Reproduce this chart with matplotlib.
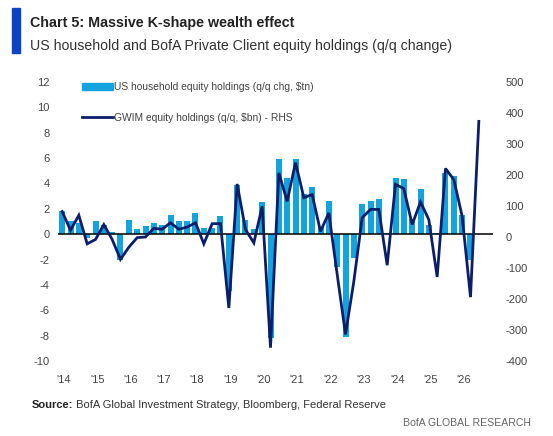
import matplotlib
matplotlib.use("Agg")
import matplotlib.pyplot as plt
from matplotlib.patches import Rectangle
from matplotlib.lines import Line2D
import numpy as np
import pandas as pd

plt.rcParams['font.family'] = ['Liberation Sans Narrow', 'Liberation Sans', 'DejaVu Sans']

# ---- data ----
quarters = [str(p) for p in pd.period_range('2013Q4', periods=51, freq='Q')]

household_tn = [1.8, 1.0, 0.9, -0.3, 1.0, 0.7, 0.2, -2.0, 1.1, 0.4,
                0.65, 0.9, 0.7, 1.55, 1.0, 1.05, 1.7, 0.5, 0.5, 1.45,
                -4.5, 3.9, 1.1, 0.4, 2.5, -8.2, 5.95, 4.4, 5.9, 3.2,
                3.7, 0.6, 2.6, -2.6, -8.1, -1.9, 2.4, 2.6, 2.8, 0.1,
                4.45, 4.35, 1.2, 3.6, 0.75, 0.1, 4.85, 4.6, 1.55, -2.0,
                np.nan]

gwim_bn = [82, 22, 70, -22, -8, 40, -8, -72, -33, -2,
           0, 28, 25, 46, 25, 32, 46, -22, 43, 43,
           -229, 171, 24, -19, 99, -357, 207, 115, 240, 127,
           137, 18, 78, -120, -314, -143, 62, 89, 89, -91,
           170, 156, 40, 113, 56, -129, 221, 185, 67, -194,
           373]

year_labels = ["'14", "'15", "'16", "'17", "'18", "'19", "'20",
               "'21", "'22", "'23", "'24", "'25", "'26"]
left_ticks = [12, 10, 8, 6, 4, 2, 0, -2, -4, -6, -8, -10]
right_ticks = [500, 400, 300, 200, 100, 0, -100, -200, -300, -400]

bar_label = "US household equity holdings (q/q chg, $tn)"
line_label = "GWIM equity holdings (q/q, $bn) - RHS"

# ---- styling ----
BAR_C = '#13A3DF'
LINE_C = '#0B1E6B'
TXT_C = '#444444'

W, H = 553, 436
fig = plt.figure(figsize=(W / 100, H / 100), dpi=100)
fig.patch.set_facecolor('white')

ax_l, ax_r, ax_t, ax_b = 58, 493, 82, 361
ax = fig.add_axes([ax_l / W, 1 - ax_b / H, (ax_r - ax_l) / W, (ax_b - ax_t) / H])
ax2 = ax.twinx()

x = np.arange(len(quarters))
ax.bar(x, household_tn, width=0.72, color=BAR_C, zorder=2)
ax.axhline(0, color='black', lw=1.1, zorder=3)
ax2.plot(x, gwim_bn, color=LINE_C, lw=2.0, zorder=4, solid_joinstyle='miter')

ax.set_xlim(-0.5, 51.7)
ax.set_ylim(-10, 12)
ax2.set_ylim(-400, 500)
ax.set_yticks(left_ticks)
ax.set_yticklabels([str(t) for t in left_ticks])
ax2.set_yticks(right_ticks)
ax2.set_yticklabels([str(t) for t in right_ticks])

tick_pos = [quarters.index(f"{2000 + int(lbl[1:]) - 1}Q4") + 0.2 for lbl in year_labels]
ax.set_xticks(tick_pos)
ax.set_xticklabels(year_labels)

for a in (ax, ax2):
    for s in a.spines.values():
        s.set_visible(False)
    a.tick_params(length=0, labelsize=8, colors=TXT_C)
ax.tick_params(axis='y', pad=6)
ax2.tick_params(axis='y', pad=9)
ax.tick_params(axis='x', pad=10)
ax2.set_zorder(ax.get_zorder() + 1)
ax2.patch.set_visible(False)

handles = [Rectangle((0, 0), 1, 1, color=BAR_C),
           Line2D([0], [0], color=LINE_C, lw=2.0)]
leg = fig.legend(handles, [bar_label, line_label],
                 loc='upper left', bbox_to_anchor=(82 / W, 1 - 82 / H),
                 frameon=False, fontsize=7.4, handlelength=3.0,
                 handleheight=0.7, handletextpad=0.15, labelspacing=2.0,
                 borderaxespad=0, borderpad=0)
for t in leg.get_texts():
    t.set_color(TXT_C)

# ---- titles ----
fig.patches.append(Rectangle((12 / W, 1 - 53 / H), 8 / W, 45 / H,
                             transform=fig.transFigure, color='#0A44C4'))
fig.text(30 / W, 1 - 23 / H, "Chart 5: Massive K-shape wealth effect",
         fontsize=10.3, fontweight='bold', color='#222222', va='center', ha='left')
fig.text(30 / W, 1 - 46 / H,
         "US household and BofA Private Client equity holdings (q/q change)",
         fontsize=10.2, color='#333333', va='center', ha='left')

src = fig.text(32 / W, 1 - 405 / H, "Source:", fontsize=8, fontweight='bold',
               color='#222222', va='center', ha='left')
fig.add_artist(plt.Annotation(" BofA Global Investment Strategy, Bloomberg, Federal Reserve",
                              xy=(1, 0.5), xycoords=src, fontsize=8, color='#333333',
                              va='center', ha='left', annotation_clip=False))
fig.text(531 / W, 1 - 423 / H, "BofA GLOBAL RESEARCH", fontsize=7.6,
         color='#666666', va='center', ha='right')

fig.savefig('out.png', dpi=100, facecolor='white')
